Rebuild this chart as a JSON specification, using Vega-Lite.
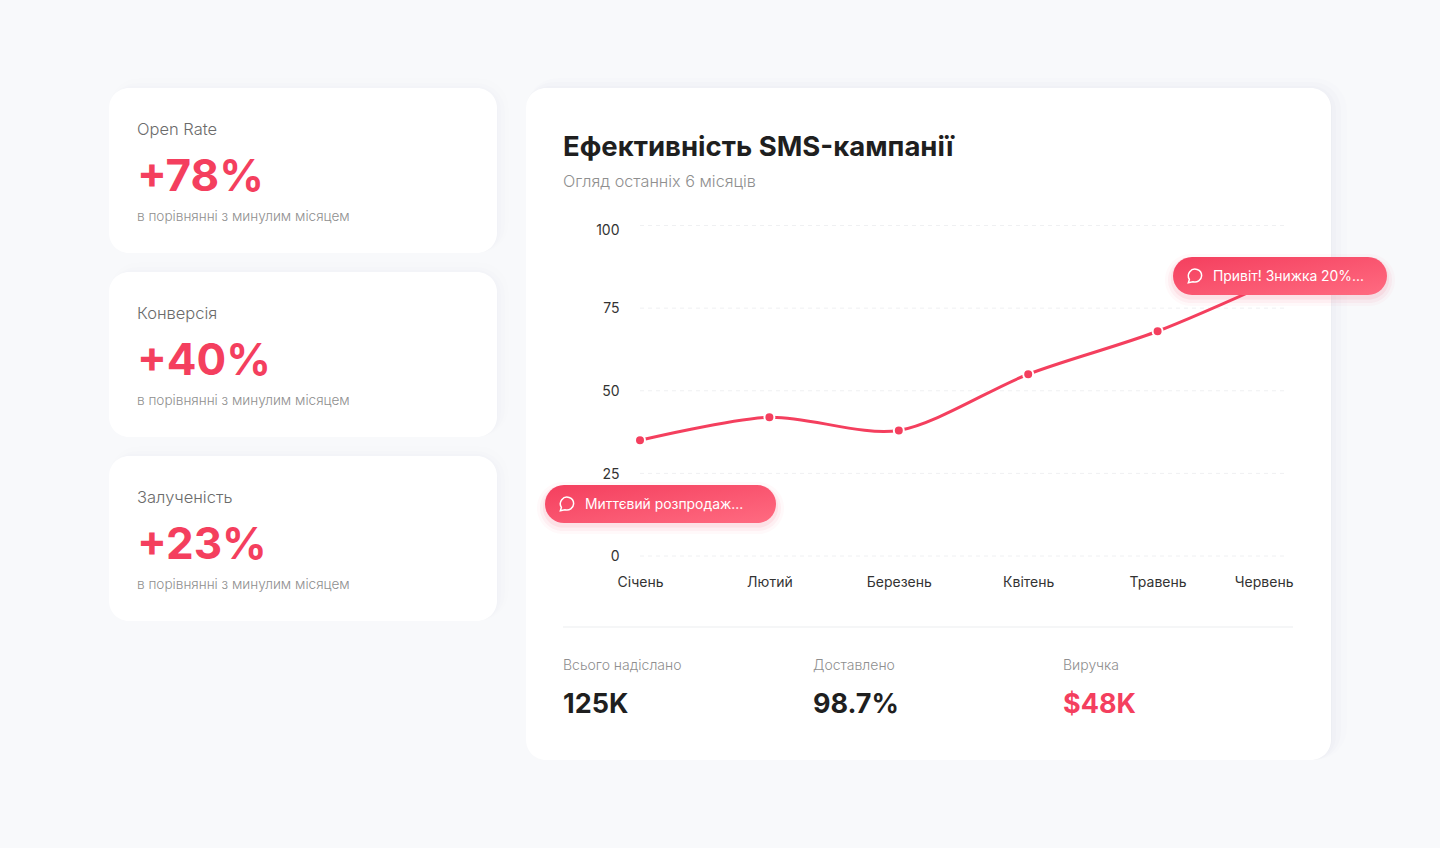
{
  "$schema": "https://vega.github.io/schema/vega-lite/v6.json",
  "background": "#f8f9fb",
  "padding": {"left": 109, "top": 78, "right": 45, "bottom": 88},
  "config": {
    "view": {"stroke": null},
    "font": "Inter",
    "text": {"font": "Inter", "align": "left", "baseline": "alphabetic"}
  },
  "datasets": {
    "kpi": [
      {"metric": "Open Rate", "kind": "label", "text": "Open Rate"},
      {"metric": "Open Rate", "kind": "value", "text": "+78%"},
      {"metric": "Open Rate", "kind": "note", "text": "в порівнянні з минулим місяцем"},
      {"metric": "Конверсія", "kind": "label", "text": "Конверсія"},
      {"metric": "Конверсія", "kind": "value", "text": "+40%"},
      {"metric": "Конверсія", "kind": "note", "text": "в порівнянні з минулим місяцем"},
      {"metric": "Залученість", "kind": "label", "text": "Залученість"},
      {"metric": "Залученість", "kind": "value", "text": "+23%"},
      {"metric": "Залученість", "kind": "note", "text": "в порівнянні з минулим місяцем"}
    ],
    "header": [
      {"role": "title", "text": "Ефективність SMS-кампанії"},
      {"role": "subtitle", "text": "Огляд останніх 6 місяців"}
    ],
    "grid": [
      {"tick": 0, "month": "Січень"}, {"tick": 0, "month": "Червень"},
      {"tick": 25, "month": "Січень"}, {"tick": 25, "month": "Червень"},
      {"tick": 50, "month": "Січень"}, {"tick": 50, "month": "Червень"},
      {"tick": 75, "month": "Січень"}, {"tick": 75, "month": "Червень"},
      {"tick": 100, "month": "Січень"}, {"tick": 100, "month": "Червень"}
    ],
    "series": [
      {"month": "Січень", "value": 35},
      {"month": "Лютий", "value": 42},
      {"month": "Березень", "value": 38},
      {"month": "Квітень", "value": 55},
      {"month": "Травень", "value": 68},
      {"month": "Червень", "value": 85}
    ],
    "pills": [
      {"month": "Січень", "at": 16, "message": "Миттєвий розпродаж..."},
      {"month": "Червень", "at": 85, "message": "Привіт! Знижка 20%..."}
    ],
    "stats": [
      {"stat": "Всього надіслано", "kind": "caption", "text": "Всього надіслано"},
      {"stat": "Всього надіслано", "kind": "figure", "text": "125K"},
      {"stat": "Доставлено", "kind": "caption", "text": "Доставлено"},
      {"stat": "Доставлено", "kind": "figure", "text": "98.7%"},
      {"stat": "Виручка", "kind": "caption", "text": "Виручка"},
      {"stat": "Виручка", "kind": "figure", "text": "$48K"}
    ],
    "card": [{"card": "main"}],
    "divider": [{"end": "start", "line": "footer"}, {"end": "stop", "line": "footer"}]
  },
  "spacing": 17,
  "hconcat": [
    {
      "data": {"name": "kpi"},
      "bounds": "flush",
      "spacing": 19,
      "facet": {"row": {"field": "metric", "type": "nominal", "header": null, "sort": ["Open Rate", "Конверсія", "Залученість"]}},
      "spec": {
        "width": 388,
        "height": 165,
        "layer": [
          {
            "transform": [{"filter": "datum.kind == 'label'"}],
            "layer": [
              {"mark": {"type": "rect", "clip": false, "cornerRadius": 30, "fill": "#1a2340", "opacity": 0.005, "xOffset": 12, "x2Offset": -12, "yOffset": -10, "y2Offset": 16}},
              {"mark": {"type": "rect", "clip": false, "cornerRadius": 28, "fill": "#1a2340", "opacity": 0.006, "xOffset": 8, "x2Offset": -8, "yOffset": -5, "y2Offset": 11}},
              {"mark": {"type": "rect", "clip": false, "cornerRadius": 24, "fill": "#1a2340", "opacity": 0.007, "xOffset": 4, "x2Offset": -4, "yOffset": -2, "y2Offset": 6}},
              {"mark": {"type": "rect", "clip": false, "cornerRadius": 21, "fill": "#1a2340", "opacity": 0.008, "xOffset": 1, "x2Offset": -1, "yOffset": 0, "y2Offset": 3}},
              {"mark": {"type": "rect", "clip": false, "cornerRadius": 20, "fill": "#ffffff", "opacity": 1}}
            ]
          },
          {
            "encoding": {
              "x": {"field": "kind", "type": "nominal", "axis": null, "scale": {"type": "point", "padding": 0, "range": [28, 28]}},
              "y": {"field": "kind", "type": "nominal", "axis": null, "scale": {"type": "point", "padding": 0, "domain": ["label", "value", "note"], "range": [47, 132.5]}},
              "text": {"field": "text", "type": "nominal"}
            },
            "layer": [
              {"transform": [{"filter": "datum.kind == 'label'"}], "mark": {"type": "text", "fontSize": 16.5, "fontWeight": 300, "color": "#6b6b6b"}},
              {"transform": [{"filter": "datum.kind == 'value'"}], "mark": {"type": "text", "fontSize": 44, "fontWeight": 700, "color": "#f43f5e", "dy": 13.5}},
              {"transform": [{"filter": "datum.kind == 'note'"}], "mark": {"type": "text", "fontSize": 13.6, "fontWeight": 300, "color": "#8f8f8f"}}
            ]
          }
        ]
      }
    },
    {
      "width": 805,
      "height": 672,
      "resolve": {"scale": {"x": "independent", "y": "independent"}},
      "layer": [
        {
          "data": {"name": "card"},
          "layer": [
            {"mark": {"type": "rect", "clip": false, "cornerRadius": 32, "fill": "#1a2340", "opacity": 0.008, "xOffset": 16, "x2Offset": -16, "yOffset": -10, "y2Offset": 24}},
            {"mark": {"type": "rect", "clip": false, "cornerRadius": 28, "fill": "#1a2340", "opacity": 0.01, "xOffset": 10, "x2Offset": -10, "yOffset": -6, "y2Offset": 16}},
            {"mark": {"type": "rect", "clip": false, "cornerRadius": 24, "fill": "#1a2340", "opacity": 0.012, "xOffset": 5, "x2Offset": -5, "yOffset": -2, "y2Offset": 9}},
            {"mark": {"type": "rect", "clip": false, "cornerRadius": 21, "fill": "#1a2340", "opacity": 0.014, "xOffset": 1, "x2Offset": -1, "yOffset": 0, "y2Offset": 4}},
            {"mark": {"type": "rect", "clip": false, "cornerRadius": 20, "fill": "#ffffff", "opacity": 1}}
          ]
        },
        {
          "data": {"name": "header"},
          "encoding": {
            "x": {"field": "role", "type": "nominal", "axis": null, "scale": {"type": "point", "padding": 0, "range": [37, 37]}},
            "y": {"field": "role", "type": "nominal", "axis": null, "scale": {"type": "point", "padding": 0, "domain": ["title", "subtitle"], "range": [68, 99]}},
            "text": {"field": "text", "type": "nominal"}
          },
          "layer": [
            {"transform": [{"filter": "datum.role == 'title'"}], "mark": {"type": "text", "fontSize": 27.5, "fontWeight": 700, "color": "#1f1f1f"}},
            {"transform": [{"filter": "datum.role == 'subtitle'"}], "mark": {"type": "text", "fontSize": 16.2, "fontWeight": 300, "color": "#8f8f8f"}}
          ]
        },
        {
          "layer": [
            {
              "data": {"name": "grid"},
              "mark": {"type": "line", "color": "#eff0f2", "strokeWidth": 1, "strokeDash": [4, 4]},
              "encoding": {
                "detail": {"field": "tick", "type": "nominal"},
                "x": {
                  "field": "month",
                  "type": "nominal",
                  "title": null,
                  "scale": {"type": "point", "padding": 0, "domain": ["Січень", "Лютий", "Березень", "Квітень", "Травень", "Червень"], "range": [114, 761]},
                  "axis": {
                    "orient": "bottom",
                    "offset": -178,
                    "zindex": 1,
                    "grid": false,
                    "domain": false,
                    "ticks": false,
                    "labelPadding": 0,
                    "labelAngle": 0,
                    "labelBaseline": "middle",
                    "labelFont": "Inter",
                    "labelFontSize": 14,
                    "labelColor": "#333333",
                    "labelAlign": {"condition": {"test": "datum.value == 'Червень'", "value": "right"}, "value": "center"},
                    "labelOffset": {"condition": {"test": "datum.value == 'Червень'", "value": 6}, "value": 0}
                  }
                },
                "y": {
                  "field": "tick",
                  "type": "quantitative",
                  "title": null,
                  "scale": {"domain": [0, 100], "range": [468, 137.5]},
                  "axis": {
                    "values": [0, 25, 50, 75, 100],
                    "offset": -93,
                    "zindex": 1,
                    "domain": false,
                    "ticks": false,
                    "grid": false,
                    "labelPadding": 0,
                    "labelFont": "Inter",
                    "labelFontSize": 14,
                    "labelColor": "#333333",
                    "labelOffset": {"condition": {"test": "datum.value == 100", "value": 5}, "value": 0.7}
                  }
                }
              }
            },
            {
              "data": {"name": "series"},
              "encoding": {
                "x": {"field": "month", "type": "nominal", "title": null},
                "y": {"field": "value", "type": "quantitative", "title": null}
              },
              "layer": [
                {"mark": {"type": "line", "color": "#f43f5e", "strokeWidth": 3, "interpolate": "cardinal", "tension": 0.15}},
                {"mark": {"type": "point", "filled": true, "size": 100, "fill": "#f43f5e", "stroke": "#ffffff", "strokeWidth": 2, "opacity": 1}}
              ]
            },
            {
              "data": {"name": "pills"},
              "encoding": {
                "x": {"field": "month", "type": "nominal", "title": null},
                "y": {"field": "at", "type": "quantitative", "title": null}
              },
              "layer": [
                {
                  "transform": [{"filter": "datum.month == 'Січень'"}],
                  "layer": [
                    {"mark": {"type": "rect", "clip": false, "width": 247, "height": 52, "cornerRadius": 26, "fill": "#f43f5e", "opacity": 0.03, "xOffset": 20.5, "yOffset": 5}},
                    {"mark": {"type": "rect", "clip": false, "width": 241, "height": 46, "cornerRadius": 23, "fill": "#f43f5e", "opacity": 0.05, "xOffset": 20.5, "yOffset": 5}},
                    {"mark": {"type": "rect", "clip": false, "width": 235, "height": 41, "cornerRadius": 20, "fill": "#f43f5e", "opacity": 0.08, "xOffset": 20.5, "yOffset": 4}},
                    {"mark": {"type": "rect", "clip": false, "width": 231, "height": 38, "cornerRadius": 19, "xOffset": 20.5, "yOffset": 1, "opacity": 1, "fill": {"gradient": "linear", "x1": 0, "y1": 0, "x2": 1, "y2": 1, "stops": [{"offset": 0, "color": "#f43f5e"}, {"offset": 1, "color": "#ff6b81"}]}}},
                    {"mark": {"type": "point", "clip": false, "shape": "M0.95 -0.05 A0.95 0.95 0 1 0 -0.8 0.47 L-0.95 0.95 L-0.3 0.8 A0.95 0.95 0 0 0 0.95 -0.05 Z", "size": 196, "filled": false, "stroke": "#ffffff", "strokeWidth": 1.5, "opacity": 1, "xOffset": -73, "yOffset": 1}},
                    {"mark": {"type": "text", "clip": false, "fontSize": 13.9, "fontWeight": 400, "color": "#ffffff", "xOffset": -55, "yOffset": 6}, "encoding": {"text": {"field": "message", "type": "nominal"}}}
                  ]
                },
                {
                  "transform": [{"filter": "datum.month == 'Червень'"}],
                  "layer": [
                    {"mark": {"type": "rect", "clip": false, "width": 230, "height": 52, "cornerRadius": 26, "fill": "#f43f5e", "opacity": 0.03, "xOffset": -7, "yOffset": 5}},
                    {"mark": {"type": "rect", "clip": false, "width": 224, "height": 46, "cornerRadius": 23, "fill": "#f43f5e", "opacity": 0.05, "xOffset": -7, "yOffset": 5}},
                    {"mark": {"type": "rect", "clip": false, "width": 218, "height": 41, "cornerRadius": 20, "fill": "#f43f5e", "opacity": 0.08, "xOffset": -7, "yOffset": 4}},
                    {"mark": {"type": "rect", "clip": false, "width": 214, "height": 38, "cornerRadius": 19, "xOffset": -7, "yOffset": 1, "opacity": 1, "fill": {"gradient": "linear", "x1": 0, "y1": 0, "x2": 1, "y2": 1, "stops": [{"offset": 0, "color": "#f43f5e"}, {"offset": 1, "color": "#ff6b81"}]}}},
                    {"mark": {"type": "point", "clip": false, "shape": "M0.95 -0.05 A0.95 0.95 0 1 0 -0.8 0.47 L-0.95 0.95 L-0.3 0.8 A0.95 0.95 0 0 0 0.95 -0.05 Z", "size": 196, "filled": false, "stroke": "#ffffff", "strokeWidth": 1.5, "opacity": 1, "xOffset": -92, "yOffset": 1}},
                    {"mark": {"type": "text", "clip": false, "fontSize": 13.9, "fontWeight": 400, "color": "#ffffff", "xOffset": -74, "yOffset": 6}, "encoding": {"text": {"field": "message", "type": "nominal"}}}
                  ]
                }
              ]
            }
          ]
        },
        {
          "data": {"name": "divider"},
          "mark": {"type": "line", "color": "#f2f3f5", "strokeWidth": 1.5},
          "encoding": {
            "x": {"field": "end", "type": "nominal", "axis": null, "scale": {"type": "point", "padding": 0, "domain": ["start", "stop"], "range": [37, 767]}},
            "y": {"field": "line", "type": "nominal", "axis": null, "scale": {"type": "point", "padding": 0, "range": [539, 539]}}
          }
        },
        {
          "data": {"name": "stats"},
          "encoding": {
            "x": {"field": "stat", "type": "nominal", "axis": null, "scale": {"type": "point", "padding": 0, "domain": ["Всього надіслано", "Доставлено", "Виручка"], "range": [37, 537]}},
            "y": {"field": "kind", "type": "nominal", "axis": null, "scale": {"type": "point", "padding": 0, "domain": ["caption", "figure"], "range": [582, 625]}},
            "text": {"field": "text", "type": "nominal"}
          },
          "layer": [
            {"transform": [{"filter": "datum.kind == 'caption'"}], "mark": {"type": "text", "fontSize": 14, "fontWeight": 300, "color": "#8f8f8f"}},
            {
              "transform": [{"filter": "datum.kind == 'figure'"}],
              "mark": {"type": "text", "fontSize": 27, "fontWeight": 700},
              "encoding": {"color": {"condition": {"test": "datum.stat == 'Виручка'", "value": "#f43f5e"}, "value": "#1f1f1f"}}
            }
          ]
        }
      ]
    }
  ]
}
